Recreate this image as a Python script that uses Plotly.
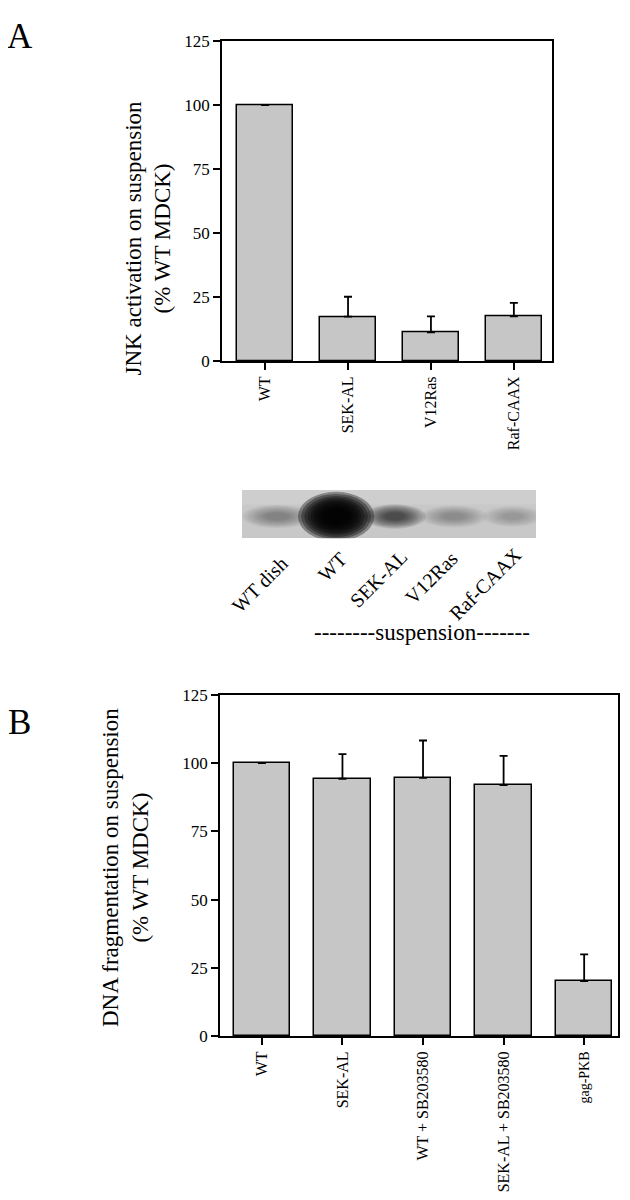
import plotly.graph_objects as go

# panel A: JNK activation
jnk_groups = ["WT", "SEK-AL", "V12Ras", "Raf-CAAX"]
jnk_mean = [100, 17.4, 11.3, 17.5]
jnk_err = [0, 7.8, 6.2, 5.3]

# western blot lanes (band darkness 0..1)
blot_lanes = ["WT dish", "WT", "SEK-AL", "V12Ras", "Raf-CAAX"]
blot_darkness = [0.33, 0.98, 0.6, 0.27, 0.22]

# panel B: DNA fragmentation
dna_groups = ["WT", "SEK-AL", "WT + SB203580", "SEK-AL + SB203580", "gag-PKB"]
dna_mean = [100, 94.3, 94.6, 92.0, 20.2]
dna_err = [0, 9.0, 13.7, 10.7, 9.8]

y_ticks = [0, 25, 50, 75, 100, 125]

# page is 630x1200, the html body keeps an 8px margin
PAGE_W, PAGE_H, M = 630, 1200, 8
W, H = PAGE_W - 2 * M, PAGE_H - 2 * M
SERIF = "Liberation Serif, Times New Roman, serif"


def fx(x):
    return (x - M) / W


def fy(y):
    return 1 - (y - M) / H


fig = go.Figure()

bar_style = dict(marker=dict(color="#c6c6c6", line=dict(color="black", width=1.5)),
                 showlegend=False)

fig.add_trace(go.Bar(
    x=list(range(len(jnk_groups))), y=jnk_mean, width=0.67,
    error_y=dict(type="data", symmetric=False, array=jnk_err,
                 arrayminus=[0] * len(jnk_err), color="black", thickness=1.8, width=4),
    xaxis="x", yaxis="y", **bar_style
))

fig.add_trace(go.Bar(
    x=list(range(len(dna_groups))), y=dna_mean, width=0.7,
    error_y=dict(type="data", symmetric=False, array=dna_err,
                 arrayminus=[0] * len(dna_err), color="black", thickness=1.8, width=4),
    xaxis="x2", yaxis="y2", **bar_style
))

axis_common = dict(showline=True, linecolor="black", linewidth=1.5, mirror=True,
                   ticks="outside", ticklen=7, tickwidth=1.5, tickcolor="black",
                   showgrid=False, zeroline=False,
                   tickfont=dict(family=SERIF, size=17, color="black"))

dna_ticktext = dna_groups[:-1] + ["<span style='font-size:14px'>gag-PKB</span>"]

fig.update_layout(
    width=W, height=H,
    margin=dict(l=0, r=0, t=0, b=0),
    plot_bgcolor="white", paper_bgcolor="white",
    bargap=0,
    xaxis=dict(domain=[fx(222), fx(552)], range=[-0.52, 3.46], anchor="y",
               tickvals=list(range(len(jnk_groups))), ticktext=jnk_groups,
               tickangle=-90, **axis_common),
    yaxis=dict(domain=[fy(364), fy(33)], range=[0, 125], anchor="x",
               tickvals=y_ticks, **axis_common),
    xaxis2=dict(domain=[fx(220), fx(618)], range=[-0.52, 4.42], anchor="y2",
                tickvals=list(range(len(dna_groups))), ticktext=dna_ticktext,
                tickangle=-90, **axis_common),
    yaxis2=dict(domain=[fy(1062), fy(709)], range=[0, 125], anchor="x2",
                tickvals=y_ticks, **axis_common),
    xaxis3=dict(domain=[fx(242), fx(536)], range=[-0.6, 4.4], visible=False,
                anchor="y3", fixedrange=True),
    yaxis3=dict(domain=[fy(547), fy(497)], range=[0, 1], visible=False,
                anchor="x3", fixedrange=True),
)
fig.update_xaxes(tickfont_size=16)

# blot background and bands
shapes = [dict(type="rect", xref="x3", yref="y3", x0=-0.6, x1=4.4, y0=0, y1=1,
               fillcolor="#c8c8c8", line=dict(width=0), layer="below"),
          dict(type="rect", xref="x3", yref="y3", x0=-0.6, x1=4.4, y0=0.7, y1=1,
               fillcolor="white", opacity=0.12, line=dict(width=0), layer="below")]
band_w = [1.0, 1.08, 0.88, 0.95, 0.85]
band_h = [0.4, 0.85, 0.42, 0.38, 0.36]
scales = [1.2, 1.1, 1.0, 0.9, 0.8, 0.7, 0.6, 0.5, 0.4]
for i, d in enumerate(blot_darkness):
    op = 1 - (1 - d) ** (1 / len(scales))
    for s in scales:
        hw, hh = band_w[i] * s / 2, band_h[i] * s / 2
        shapes.append(dict(type="circle", xref="x3", yref="y3",
                           x0=i - hw, x1=i + hw, y0=0.45 - hh, y1=0.45 + hh,
                           fillcolor="black", opacity=op, line=dict(width=0),
                           layer="below"))
fig.update_layout(shapes=shapes)

annotations = []


def note(text, x, y, size, angle=0):
    annotations.append(dict(text=text, x=fx(x), y=fy(y), xref="paper", yref="paper",
                            textangle=angle, showarrow=False, xanchor="center",
                            yanchor="middle", borderpad=0,
                            font=dict(family=SERIF, size=size, color="black")))


# blot lane labels
label_pos = [(259, 595), (332, 577), (378, 589), (431, 588), (485, 594)]
for name, (lx, ly) in zip(blot_lanes, label_pos):
    note(name, lx, ly, 20, -45)
note("--------suspension-------", 422, 644, 23)

# y titles
note("JNK activation on suspension<br>(% WT MDCK)", 148, 237, 23, -90)
note("DNA fragmentation on suspension<br>(% WT MDCK)", 125, 888, 23, -90)

# panel letters
note("A", 20, 28, 35)
note("B", 20, 738, 35)

fig.update_layout(annotations=annotations)

fig.write_html("out.html")
